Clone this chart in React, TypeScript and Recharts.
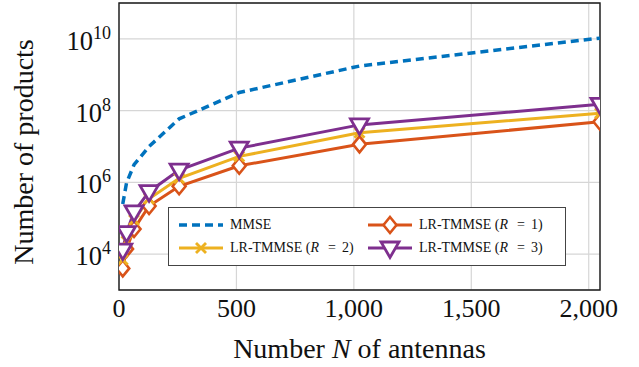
import { LineChart, Line, XAxis, YAxis, CartesianGrid, ReferenceArea, Label } from "recharts";

const antennas = [16, 32, 64, 128, 256, 512, 1024, 2048];
const mmse = [2.5e5, 9.6e5, 3.1e6, 1.0e7, 5.9e7, 3.2e8, 1.75e9, 1.05e10];
const lrR1 = [4.0e3, 1.4e4, 5.0e4, 2.2e5, 7.8e5, 2.9e6, 1.15e7, 4.9e7];
const lrR2 = [7.0e3, 2.3e4, 9.0e4, 3.5e5, 1.3e6, 5.3e6, 2.4e7, 8.5e7];
const lrR3 = [1.3e4, 4.0e4, 1.5e5, 5.5e5, 2.2e6, 9.0e6, 4.0e7, 1.5e8];

const xTicks = [0, 500, 1000, 1500, 2000];
const yTicks = [1e4, 1e6, 1e8, 1e10];

const BLUE = "#0072BD";
const ORANGE = "#D95319";
const YELLOW = "#EDB120";
const PURPLE = "#7E2F8E";
const FONT = "'Liberation Serif', 'Times New Roman', serif";

const data = antennas.map((n, i) => ({
  n,
  mmse: mmse[i],
  r1: lrR1[i],
  r2: lrR2[i],
  r3: lrR3[i],
}));

function Diamond({ cx, cy }: any) {
  return (
    <polygon
      points={`${cx},${cy - 8} ${cx + 6.5},${cy} ${cx},${cy + 8} ${cx - 6.5},${cy}`}
      fill="#fff"
      stroke={ORANGE}
      strokeWidth={2.6}
    />
  );
}

function Cross({ cx, cy }: any) {
  return (
    <g stroke={YELLOW} strokeWidth={2.8}>
      <line x1={cx - 5} y1={cy - 5} x2={cx + 5} y2={cy + 5} />
      <line x1={cx - 5} y1={cy + 5} x2={cx + 5} y2={cy - 5} />
    </g>
  );
}

function TriDown({ cx, cy }: any) {
  return (
    <polygon
      points={`${cx - 9},${cy - 6} ${cx + 9},${cy - 6} ${cx},${cy + 9.5}`}
      fill="#fff"
      stroke={PURPLE}
      strokeWidth={2.8}
      strokeLinejoin="miter"
    />
  );
}

function XTick({ x, y, payload }: any) {
  return (
    <text x={x} y={y + 27} textAnchor="middle" fontFamily={FONT} fontSize={26} fill="#111">
      {payload.value.toLocaleString("en-US")}
    </text>
  );
}

function YTick({ x, y, payload }: any) {
  const exp = Math.round(Math.log10(payload.value));
  return (
    <text x={x - 8} y={y + 11} textAnchor="end" fontFamily={FONT} fontSize={26.5} fill="#111">
      <tspan>10</tspan>
      <tspan dy={-11} fontSize={18}>{exp}</tspan>
    </text>
  );
}

function Sample({ kind }: { kind: string }) {
  const color = kind === "mmse" ? BLUE : kind === "r1" ? ORANGE : kind === "r2" ? YELLOW : PURPLE;
  return (
    <svg width={46} height={24} style={{ position: "absolute", left: 0, top: -10 }}>
      <line
        x1={1}
        y1={10}
        x2={45}
        y2={10}
        stroke={color}
        strokeWidth={kind === "mmse" ? 3.5 : 3}
        strokeDasharray={kind === "mmse" ? "8 5" : undefined}
      />
      {kind === "r1" && <Diamond cx={23} cy={10} />}
      {kind === "r2" && <Cross cx={23} cy={10} />}
      {kind === "r3" && <TriDown cx={23} cy={10} />}
    </svg>
  );
}

function LegendItem({ kind, left, top, r }: any) {
  return (
    <div style={{ position: "absolute", left, top, height: 0 }}>
      <Sample kind={kind} />
      <div
        style={{
          position: "absolute",
          left: 52,
          top: -10,
          whiteSpace: "nowrap",
          fontFamily: FONT,
          fontSize: 14,
          lineHeight: "20px",
          color: "#111",
        }}
      >
        {r === undefined ? (
          "MMSE"
        ) : (
          <>
            LR-TMMSE (<i>R</i>
            <span style={{ marginLeft: 9, marginRight: 6 }}>=</span>
            {r})
          </>
        )}
      </div>
    </div>
  );
}

export default function App() {
  return (
    <div style={{ position: "absolute", left: 0, top: 0, width: 639, height: 367, background: "#fff" }}>
      <LineChart width={639} height={367} data={data} margin={{ top: 3, right: 39, bottom: 0, left: 0 }}>
        <CartesianGrid stroke="#d6d6d6" strokeWidth={1.2} />
        <XAxis
          dataKey="n"
          type="number"
          domain={[0, 2048]}
          ticks={xTicks}
          allowDataOverflow
          height={77}
          tickSize={0}
          tickMargin={0}
          axisLine={false}
          tick={<XTick />}
        >
          <Label
            content={() => (
              <text x={359.5} y={358} textAnchor="middle" fontFamily={FONT} fontSize={28} fill="#111">
                Number <tspan fontStyle="italic">N</tspan> of antennas
              </text>
            )}
          />
        </XAxis>
        <YAxis
          scale="log"
          type="number"
          domain={[1e3, 1e11]}
          ticks={yTicks}
          allowDataOverflow
          width={119}
          tickSize={0}
          tickMargin={0}
          axisLine={false}
          tick={<YTick />}
        >
          <Label
            content={() => (
              <text
                x={33}
                y={152}
                transform="rotate(-90, 33, 152)"
                textAnchor="middle"
                fontFamily={FONT}
                fontSize={28}
                fill="#111"
              >
                Number of products
              </text>
            )}
          />
        </YAxis>
        <ReferenceArea x1={0} x2={2048} y1={1e3} y2={1e11} fill="none" fillOpacity={0} stroke="#1a1a1a" strokeWidth={1.4} ifOverflow="visible" />
        <Line
          dataKey="mmse"
          stroke={BLUE}
          strokeWidth={3.5}
          strokeDasharray="8 5"
          dot={false}
          type="linear"
          isAnimationActive={false}
        />
        <Line
          dataKey="r1"
          stroke={ORANGE}
          strokeWidth={3}
          dot={(p: any) => <Diamond key={p.index} cx={p.cx} cy={p.cy} />}
          type="linear"
          isAnimationActive={false}
        />
        <Line
          dataKey="r2"
          stroke={YELLOW}
          strokeWidth={3}
          dot={(p: any) => <Cross key={p.index} cx={p.cx} cy={p.cy} />}
          type="linear"
          isAnimationActive={false}
        />
        <Line
          dataKey="r3"
          stroke={PURPLE}
          strokeWidth={3}
          dot={(p: any) => <TriDown key={p.index} cx={p.cx} cy={p.cy} />}
          type="linear"
          isAnimationActive={false}
        />
      </LineChart>
      <div
        style={{
          position: "absolute",
          left: 168,
          top: 207,
          width: 396,
          height: 57,
          border: "1px solid #444",
          background: "#fff",
        }}
      >
        <LegendItem kind="mmse" left={9} top={17} />
        <LegendItem kind="r1" left={198} top={17} r={1} />
        <LegendItem kind="r2" left={9} top={40} r={2} />
        <LegendItem kind="r3" left={198} top={40} r={3} />
      </div>
    </div>
  );
}
